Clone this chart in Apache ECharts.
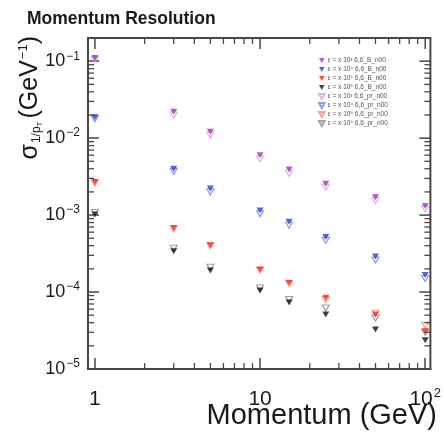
<!DOCTYPE html>
<html>
<head>
<meta charset="utf-8">
<script src="https://cdn.jsdelivr.net/npm/echarts@6/dist/echarts.min.js"></script>
<style>
  html, body { margin: 0; padding: 0; background: #fff; }
  #chart { width: 444px; height: 432px; }
</style>
</head>
<body>
<div id="chart"></div>
<script>
// momentum points (GeV)
const momentum = [1, 3, 5, 10, 15, 25, 50, 100]

// sigma(1/pT) per configuration
const purpleFilled = [0.110, 0.022, 0.0121, 0.0060, 0.0039, 0.00255, 0.00171, 0.00131]
const blueFilled = [0.0187, 0.0040, 0.00222, 0.00115, 0.00082, 0.00052, 0.00029, 0.000166]
const redFilled = [0.00269, 0.00068, 0.000407, 0.000197, 0.000132, 0.000084, 0.000051, 0.000031]
const blackFilled = [0.00102, 0.00034, 0.000191, 0.000105, 0.000073, 0.000051, 0.0000327, 0.0000236]
const violetOpen = [0.105, 0.020, 0.0110, 0.0054, 0.0035, 0.0023, 0.00155, 0.00120]
const blueOpen = [0.0178, 0.0037, 0.0020, 0.00104, 0.00074, 0.00047, 0.00026, 0.000150]
const salmonOpen = [0.00262, 0.00066, 0.00040, 0.000192, 0.000128, 0.000080, 0.000053, 0.000037]
const grayOpen = [0.00108, 0.00037, 0.00021, 0.000113, 0.000080, 0.000062, 0.000046, 0.000030]

const seriesNames = [
  'ε = x 10³ 6,6_B_n00', 'ε = x 10⁴ 6,6_B_n00', 'ε = x 10⁵ 6,6_B_n00', 'ε = x 10⁶ 6,6_B_n00',
  'ε = x 10³ 6,6_pr_n00', 'ε = x 10⁴ 6,6_pr_n00', 'ε = x 10⁵ 6,6_pr_n00', 'ε = x 10⁶ 6,6_pr_n00'
]

// tick labels
const xMajor = [1, 10, 100]
const xTickLabels = ['{b|1}', '{b|10}', '{b|10}{s|2}']
const yMajor = [1e-5, 1e-4, 1e-3, 1e-2, 1e-1]
const yTickLabels = ['{b|10}{s|−5}', '{b|10}{s|−4}', '{b|10}{s|−3}', '{b|10}{s|−2}', '{b|10}{s|−1}']

// minor ticks at 2..9 of each decade
function minors(decades) {
  let out = []
  decades.forEach(d => { for (let k = 2; k <= 9; k++) out.push(+(k * d).toPrecision(3)) })
  return out
}
const xMinor = minors([1, 10])
const yMinor = minors([1e-5, 1e-4, 1e-3, 1e-2, 1e-1]).filter(v => v < 0.2)

const X_MIN = 0.908, X_MAX = 107.5
const Y_MIN = 1e-5, Y_MAX = 0.2
const frameColor = '#4d4640'
const font = 'Liberation Sans, Arial, sans-serif'
const downTri = 'path://M0,0L10,0L5,9Z'

const richLabel = (size, supSize) => ({
  b: { fontSize: size, fontFamily: font, color: '#1a1a1a', lineHeight: size },
  s: { fontSize: supSize, fontFamily: font, color: '#1a1a1a', lineHeight: supSize, padding: [0, 0, size * 0.55, 1] }
})

// label only the decades, blank anything else
function decadeLabel(majors, labels) {
  return v => {
    const i = majors.findIndex(m => Math.abs(m - v) / m < 1e-6)
    return i < 0 ? '' : labels[i]
  }
}

const axisBase = {
  type: 'log', logBase: 10,
  splitLine: { show: false },
  axisLine: { show: true, onZero: false, lineStyle: { color: frameColor, width: 2 } },
  axisTick: { show: true, inside: true, length: 11, lineStyle: { color: frameColor, width: 1.5 } }
}

const seriesDefs = [
  { values: purpleFilled, color: '#9a35b8', filled: true },
  { values: blueFilled, color: '#2a3fc0', filled: true },
  { values: redFilled, color: '#f2261a', filled: true },
  { values: blackFilled, color: '#111111', filled: true },
  { values: violetOpen, color: '#dc9ae0', filled: false },
  { values: blueOpen, color: '#7c80e0', filled: false },
  { values: salmonOpen, color: '#f58a78', filled: false },
  { values: grayOpen, color: '#8a8a8a', filled: false }
]

const series = seriesDefs.map((d, i) => ({
  name: seriesNames[i],
  type: 'scatter',
  symbol: downTri,
  symbolSize: [7, 6],
  z: d.filled ? 4 : 3,
  itemStyle: d.filled
    ? { color: d.color }
    : { color: 'rgba(255,255,255,0)', borderColor: d.color, borderWidth: 1.2 },
  data: momentum.map((p, j) => [p, d.values[j]])
}))

// extra ticks placed through the axis scales: side = bottom/top/left/right
function tickSeries(values, isX, side, len, width) {
  return {
    type: 'custom', silent: true, clip: false, z: 5,
    data: values.map(v => isX ? [v, 1e-3] : [1, v]),
    renderItem: (params, api) => {
      const cs = params.coordSys
      const pt = api.coord([api.value(0), api.value(1)])
      let shape
      if (side === 'bottom') shape = { x1: pt[0], y1: cs.y + cs.height, x2: pt[0], y2: cs.y + cs.height - len }
      else if (side === 'top') shape = { x1: pt[0], y1: cs.y, x2: pt[0], y2: cs.y + len }
      else if (side === 'left') shape = { x1: cs.x, y1: pt[1], x2: cs.x + len, y2: pt[1] }
      else shape = { x1: cs.x + cs.width, y1: pt[1], x2: cs.x + cs.width - len, y2: pt[1] }
      return { type: 'line', shape: shape, style: { stroke: frameColor, lineWidth: width } }
    }
  }
}
series.push(
  tickSeries(xMinor, true, 'bottom', 6, 1.3),
  tickSeries(xMinor, true, 'top', 6, 1.3),
  tickSeries(xMajor, true, 'top', 11, 1.5),
  tickSeries(yMinor, false, 'left', 6, 1.3),
  tickSeries(yMinor, false, 'right', 6, 1.3),
  tickSeries(yMajor, false, 'right', 11, 1.5)
)

const chart = echarts.init(document.getElementById('chart'), null, { renderer: 'canvas' })
chart.setOption({
  animation: false,
  backgroundColor: '#fff',
  title: {
    text: 'Momentum Resolution', left: 22, top: 5,
    textStyle: { fontFamily: font, fontSize: 17.5, fontWeight: 'bold', color: '#1a1a1a' }
  },
  grid: { left: 88, right: 11, top: 38, bottom: 63, show: true, borderColor: frameColor, borderWidth: 2 },
  legend: {
    orient: 'vertical', left: 313, top: 52,
    itemWidth: 6, itemHeight: 5, itemGap: 2,
    textStyle: { fontFamily: font, fontSize: 6.5, lineHeight: 6.5, color: '#555', padding: [0, 0, 0, -2] },
    data: seriesNames
  },
  xAxis: Object.assign({}, axisBase, {
    min: X_MIN, max: X_MAX,
    axisLabel: {
      show: true, margin: 20, showMinLabel: false, showMaxLabel: false,
      formatter: decadeLabel(xMajor, xTickLabels),
      rich: richLabel(21, 13)
    }
  }),
  yAxis: Object.assign({}, axisBase, {
    min: Y_MIN, max: Y_MAX,
    axisLabel: {
      show: true, margin: 8,
      formatter: decadeLabel(yMajor, yTickLabels),
      rich: richLabel(18, 12)
    }
  }),
  graphic: [
    {
      type: 'text', x: 30, y: 36, rotation: Math.PI / 2,
      style: {
        text: '{m|σ}{sub|1/p}{subT|T}{m|(GeV}{sup|−1}{m|)}',
        align: 'right', verticalAlign: 'middle',
        rich: {
          m: { fontSize: 25, fontFamily: font, fill: '#1a1a1a', lineHeight: 26 },
          sub: { fontSize: 12, fontFamily: font, fill: '#1a1a1a', lineHeight: 12, padding: [13, 0, 0, 1] },
          subT: { fontSize: 8, fontFamily: font, fill: '#1a1a1a', lineHeight: 8, padding: [19, 3, 0, 0] },
          sup: { fontSize: 13, fontFamily: font, fill: '#1a1a1a', lineHeight: 13, padding: [0, 0, 13, 1] }
        }
      }
    },
    {
      type: 'text', right: 7, top: 401,
      style: { text: 'Momentum (GeV)', fontSize: 29, fontFamily: font, fill: '#1a1a1a' }
    }
  ],
  series: series
})
window.onresize = function() {
  chart.resize()
}
</script>
</body>
</html>
